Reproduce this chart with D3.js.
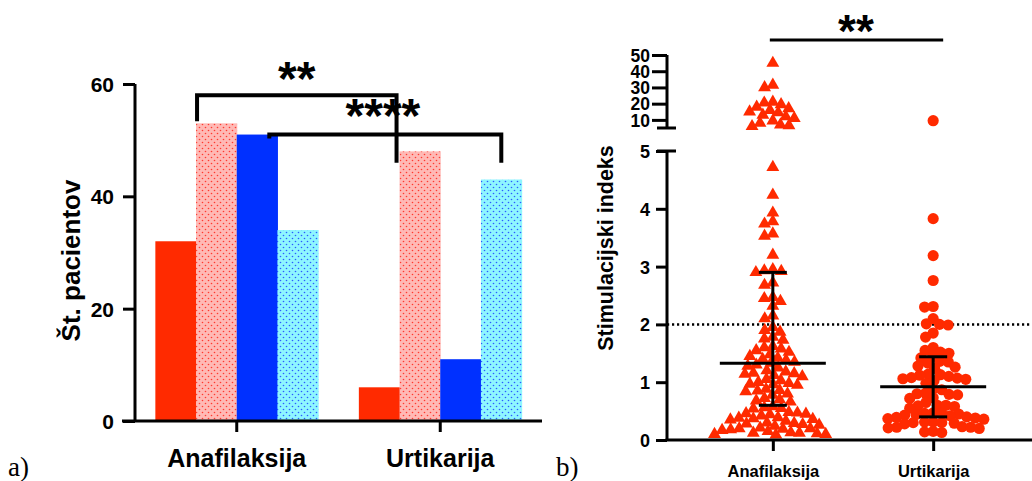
<!DOCTYPE html>
<html><head><meta charset="utf-8">
<script src="https://cdn.jsdelivr.net/npm/d3@7"></script>
<style>
body{margin:0;background:#fff}
svg{display:block}
text{font-family:Arial,"Liberation Sans",sans-serif;font-weight:bold;fill:#000}
</style>
</head><body>
<svg id="c" width="1032" height="481"></svg>
<script>
// ---------- data ----------
const categories = ["Anafilaksija", "Urtikarija"];
const barSeries = ["s1", "s2", "s3", "s4"];
const s1Values = [32, 6];
const s2Values = [53, 48];
const s3Values = [51, 11];
const s4Values = [34, 43];
const yTicksLeft = [0, 20, 40, 60];

const anaValues = [45, 31.5, 30, 21, 20.5, 19.5, 18, 17, 16, 15, 14.5, 13, 12, 11, 9.5, 8, 7, 6.5, 6,
  4.72, 4.24, 3.93, 3.78, 3.74, 3.57, 3.53, 3.2, 2.95, 2.93, 2.92, 2.9, 2.72, 2.68, 2.47, 2.45, 2.4, 2.32,
  2.15, 2.1, 1.95, 1.9, 1.87, 1.78, 1.75, 1.73, 1.62, 1.6, 1.58, 1.55, 1.52, 1.48, 1.45, 1.42, 1.4, 1.38,
  1.35, 1.33, 1.3, 1.28, 1.25, 1.2, 1.18, 1.16, 1.15, 1.14, 1.12, 1.1, 1.05, 1.03, 1.0, 0.98, 0.97, 0.96,
  0.95, 0.88, 0.86, 0.85, 0.84, 0.8, 0.78, 0.72, 0.7, 0.68, 0.66, 0.58, 0.56, 0.55, 0.54, 0.48, 0.47, 0.46,
  0.45, 0.44, 0.42, 0.39, 0.38, 0.37, 0.36, 0.35, 0.33, 0.3, 0.29, 0.28, 0.27, 0.26, 0.24, 0.21, 0.2, 0.2,
  0.19, 0.18, 0.17, 0.15, 0.13, 0.12, 0.12, 0.11, 0.1, 0.1, 0.09];
const urtValues = [9.5, 3.83, 3.19, 2.76, 2.31, 2.3, 2.1, 2.01, 2.0, 1.99, 1.85, 1.78, 1.6, 1.55, 1.52, 1.5,
  1.45, 1.42, 1.36, 1.35, 1.33, 1.28, 1.26, 1.24, 1.14, 1.13, 1.12, 1.1, 1.08, 1.07, 1.06, 1.05, 1.03, 0.98,
  0.88, 0.87, 0.81, 0.8, 0.79, 0.78, 0.73, 0.72, 0.65, 0.6, 0.6, 0.59, 0.58, 0.55, 0.47, 0.46, 0.46, 0.45,
  0.44, 0.43, 0.42, 0.4, 0.39, 0.38, 0.37, 0.36, 0.31, 0.31, 0.3, 0.3, 0.29, 0.28, 0.23, 0.22, 0.22, 0.21,
  0.2, 0.15, 0.14, 0.13];
const anaStats = [0.6, 1.33, 2.9];   // q1, median, q3
const urtStats = [0.4, 0.92, 1.44];
const yTicksLow = [0, 1, 2, 3, 4, 5];
const yTicksHigh = [10, 20, 30, 40, 50];
const threshold = 2;

// ---------- styles ----------
const RED = "#ff2a00", BLUE = "#0030ff";
const svg = d3.select("#c");
const defs = svg.append("defs");
function dotPattern(id, bg, dot) {
  const p = defs.append("pattern").attr("id", id).attr("patternUnits", "userSpaceOnUse")
    .attr("width", 6).attr("height", 6);
  p.append("rect").attr("width", 6).attr("height", 6).attr("fill", bg);
  p.append("circle").attr("cx", 1.5).attr("cy", 1.5).attr("r", 0.8).attr("fill", dot);
  p.append("circle").attr("cx", 4.5).attr("cy", 4.5).attr("r", 0.8).attr("fill", dot);
}
dotPattern("pinkDots", "#ffb9b5", "#ff3a30");
dotPattern("cyanDots", "#8ef6ff", "#2a5cff");
const fills = {s1: RED, s2: "url(#pinkDots)", s3: BLUE, s4: "url(#cyanDots)"};

// ---------- panel a ----------
const seriesVals = {s1: s1Values, s2: s2Values, s3: s3Values, s4: s4Values};
const xL = d3.scaleBand().domain(categories).range([135, 542]).paddingInner(0.2).paddingOuter(0.1);
const xS = d3.scaleBand().domain(barSeries).range([0, xL.bandwidth()]);
const yL = d3.scaleLinear().domain([0, 60]).range([421, 84]);

const gA = svg.append("g");
categories.forEach((c, i) => {
  gA.selectAll(null).data(barSeries).join("rect")
    .attr("x", s => xL(c) + xS(s)).attr("width", xS.bandwidth() + 0.5)
    .attr("y", s => yL(seriesVals[s][i])).attr("height", s => yL(0) - yL(seriesVals[s][i]))
    .attr("fill", s => fills[s]);
});
// axes
const axL = gA.append("g").attr("transform", "translate(135,0)")
  .call(d3.axisLeft(yL).tickValues(yTicksLeft).tickSize(12).tickPadding(9));
axL.select(".domain").attr("stroke-width", 3).attr("d", `M0,${yL(60)}V${yL(0)}`);
axL.selectAll(".tick line").attr("stroke-width", 3);
axL.selectAll(".tick text").style("font-size", "21px").attr("dy", "0.36em");
const axB = gA.append("g").attr("transform", `translate(0,${yL(0)})`)
  .call(d3.axisBottom(xL).tickSize(11).tickPadding(17));
axB.select(".domain").attr("stroke-width", 3).attr("d", "M122,0H542");
axB.selectAll(".tick line").attr("stroke-width", 3);
axB.selectAll(".tick text").style("font-size", "25px");
gA.append("text").attr("transform", `translate(80,${(yL(0) + yL(60)) / 2 + 8}) rotate(-90)`)
  .attr("text-anchor", "middle").style("font-size", "26px").text("Št. pacientov");

// significance brackets (panel a)
const bx = (c, s) => xL(c) + xS(s);
const br = gA.append("g").attr("fill", "none").attr("stroke", "#000").attr("stroke-width", 4);
const b1L = bx(categories[0], "s2") + 1, b1R = bx(categories[1], "s2") - 3, b1Y = yL(58);
br.append("path").attr("d", `M${b1L},${yL(s2Values[0]) - 2}V${b1Y}H${b1R}V${yL(46)}`);
const b2L = bx(categories[0], "s3") + xS.bandwidth() * 0.8, b2R = bx(categories[1], "s4") + xS.bandwidth() / 2, b2Y = yL(51);
br.append("path").attr("d", `M${b2L},${b2Y + 4}V${b2Y}H${b2R}V${yL(46)}`);
gA.append("text").attr("x", (b1L + b1R) / 2).attr("y", 95).attr("text-anchor", "middle")
  .style("font-size", "48px").text("**");
gA.append("text").attr("x", (b1R + b2L) / 2 + 50).attr("y", 132).attr("text-anchor", "middle")
  .style("font-size", "48px").text("****");

// ---------- panel b ----------
const yLow = d3.scaleLinear().domain([0, 5]).range([440, 151]);
const yHigh = d3.scaleLinear().domain([5, 50]).range([128, 55]);
const yB = v => v <= 5 ? yLow(v) : yHigh(v);
const xB = d3.scalePoint().domain(categories).range([667, 1039]).padding(0.66);
const AX = 667;
const gB = svg.append("g");

// threshold dotted line
gB.append("line").attr("x1", AX).attr("x2", 1032).attr("y1", yLow(threshold)).attr("y2", yLow(threshold))
  .attr("stroke", "#000").attr("stroke-width", 2.5).attr("stroke-dasharray", "2.2,2.8");

function beeswarm(values, d) {
  const pts = values.map(v => ({v, y: yB(v), x: 0})).sort((a, b) => a.y - b.y);
  const placed = [];
  pts.forEach(p => {
    const cands = [0];
    placed.forEach(q => {
      const dy = Math.abs(q.y - p.y);
      if (dy < d) { const dx = Math.sqrt(d * d - dy * dy); cands.push(q.x + dx, q.x - dx); }
    });
    cands.sort((a, b) => Math.abs(a) - Math.abs(b) || a - b);
    for (const cx of cands) {
      if (placed.every(q => (q.x - cx) ** 2 + (q.y - p.y) ** 2 >= d * d - 0.01)) { p.x = cx; break; }
    }
    placed.push(p);
  });
  return pts;
}
const triSym = d3.symbol().type(d3.symbolTriangle).size(72);
const cirSym = d3.symbol().type(d3.symbolCircle).size(98);
gB.selectAll(".tri").data(beeswarm(anaValues, 8.6)).join("path").attr("class", "tri")
  .attr("d", triSym).attr("fill", RED)
  .attr("transform", d => `translate(${xB(categories[0]) + d.x},${d.y})`);
gB.selectAll(".cir").data(beeswarm(urtValues, 8.6)).join("path").attr("class", "cir")
  .attr("d", cirSym).attr("fill", RED)
  .attr("transform", d => `translate(${xB(categories[1]) + d.x},${d.y})`);

// median + IQR
[[categories[0], anaStats], [categories[1], urtStats]].forEach(([c, st]) => {
  const cx = xB(c), g = gB.append("g").attr("stroke", "#000").attr("stroke-width", 3);
  g.append("line").attr("x1", cx - 53).attr("x2", cx + 53).attr("y1", yLow(st[1])).attr("y2", yLow(st[1]));
  g.append("line").attr("x1", cx).attr("x2", cx).attr("y1", yLow(st[0])).attr("y2", yLow(st[2]));
  [st[0], st[2]].forEach(v => g.append("line").attr("x1", cx - 14).attr("x2", cx + 14)
    .attr("y1", yLow(v)).attr("y2", yLow(v)));
});

// axes panel b
const axLow = gB.append("g").attr("transform", `translate(${AX},0)`)
  .call(d3.axisLeft(yLow).tickValues(yTicksLow).tickFormat(d3.format("d")).tickSize(11).tickPadding(6));
axLow.select(".domain").attr("stroke-width", 3).attr("d", `M0,${yLow(5)}V${yLow(0)}`);
axLow.selectAll(".tick line").attr("stroke-width", 3);
axLow.selectAll(".tick text").style("font-size", "18px").attr("dy", "0.36em");
axLow.append("line").attr("x1", -10).attr("x2", 9).attr("y1", yLow(5)).attr("y2", yLow(5))
  .attr("stroke", "#000").attr("stroke-width", 3);
const axHigh = gB.append("g").attr("transform", `translate(${AX},0)`)
  .call(d3.axisLeft(yHigh).tickValues(yTicksHigh).tickSize(15).tickPadding(2));
axHigh.select(".domain").attr("stroke-width", 3).attr("d", `M0,${yHigh(50)}V${yHigh(5)}`);
axHigh.selectAll(".tick line").attr("stroke-width", 3);
axHigh.selectAll(".tick text").style("font-size", "17.5px").attr("dy", "0.36em");
axHigh.append("line").attr("x1", -10).attr("x2", 9).attr("y1", yHigh(5)).attr("y2", yHigh(5))
  .attr("stroke", "#000").attr("stroke-width", 3);
const axBB = gB.append("g").attr("transform", `translate(0,${yLow(0)})`)
  .call(d3.axisBottom(xB).tickSize(11).tickPadding(14));
axBB.select(".domain").attr("stroke-width", 3).attr("d", `M${AX - 1.5},0H1032`);
axBB.selectAll(".tick line").attr("stroke-width", 3);
axBB.selectAll(".tick text").style("font-size", "16.5px");
gB.append("text").attr("transform", `translate(613,248) rotate(-90)`)
  .attr("text-anchor", "middle").style("font-size", "21.5px").text("Stimulacijski indeks");
// significance (panel b)
gB.append("line").attr("x1", xB(categories[0]) - 3).attr("x2", xB(categories[1]) + 10).attr("y1", 40).attr("y2", 40)
  .attr("stroke", "#000").attr("stroke-width", 3);
gB.append("text").attr("x", (xB(categories[0]) + xB(categories[1])) / 2 + 3).attr("y", 47)
  .attr("text-anchor", "middle").style("font-size", "46px").text("**");

// panel labels
svg.append("text").attr("x", 8).attr("y", 476).style("font-family", "'Times New Roman','Liberation Serif',serif")
  .style("font-weight", "normal").style("font-size", "27px").text("a)");
svg.append("text").attr("x", 556).attr("y", 476).style("font-family", "'Times New Roman','Liberation Serif',serif")
  .style("font-weight", "normal").style("font-size", "27px").text("b)");
</script>
</body></html>
